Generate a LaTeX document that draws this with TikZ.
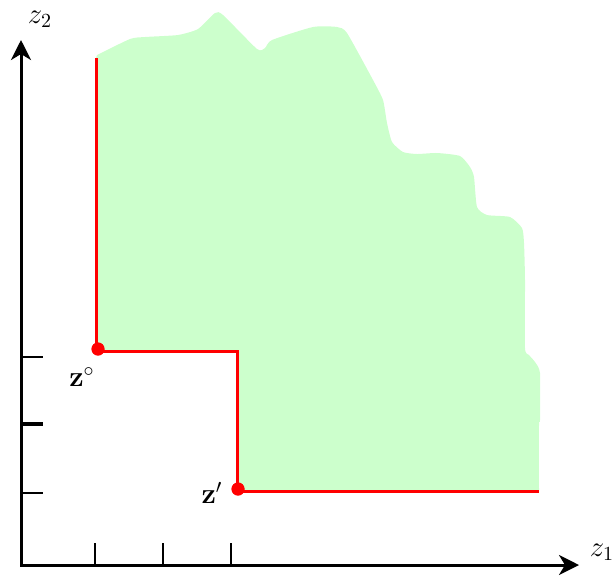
\documentclass[tikz,border=0pt]{standalone}
\usetikzlibrary{arrows.meta}
\definecolor{regiongreen}{HTML}{CCFFCC}
\definecolor{pathred}{HTML}{FF0000}
\begin{document}
\begin{tikzpicture}[x=0.5pt,y=-0.5pt,
  axis/.style={line width=1.5pt,black,{Stealth[length=10pt,width=10pt,inset=3pt]}-{Stealth[length=10pt,width=10pt,inset=3pt]}},
  thintick/.style={line width=0.8pt,black},
  thicktick/.style={line width=1.6pt,black},
  redpath/.style={line width=1.5pt,pathred},
  dot/.style={circle,fill=pathred,inner sep=0pt,minimum size=6.5pt},
  lbl/.style={inner sep=0pt,font=\fontsize{14.5}{16}\selectfont}]
\useasboundingbox (0,0) rectangle (616,580);
% region
\fill[regiongreen] (96,351) -- (96,58) -- plot[smooth,tension=0.35] coordinates {(97,55) (130,39) (145,37) (178,35) (198,29) (215,13) (223,15) (257,49) (265,48) (272,40) (313,27) (337,27) (347,33) (373,80) (383,100) (387,123) (392,142) (403,152) (417,154) (437,153) (460,156) (470,167) (474,177) (477,207) (487,215) (510,217) (522,228) (524,243) (525,280) (525,348) (529,355) (535,362) (540,373) (540,420) (539,425) (539,492)} -- (237,492) -- (237,351) -- cycle;
% axes
\coordinate (O) at (21,565);
\coordinate (Ytip) at (21,40);
\coordinate (Xtip) at (579,565);
\draw[axis] (Ytip) -- (O) -- (Xtip);
\node[lbl] (z2) at (40,19) {$z_2$};
\node[lbl] (z1) at (602,552) {$z_1$};
% ticks
\foreach \y/\s in {357/thintick,424/thicktick,493/thintick}
  \draw[\s] (21,\y) -- (43,\y);
\foreach \x in {95,163,231}
  \draw[thintick] (\x,543) -- (\x,564);
% points
\node[dot] (zo) at (98,349) {};
\node[dot] (zp) at (238,489) {};
\coordinate (top) at (96,58);
\coordinate (right) at (539,491);
\draw[redpath] (top) -- (96,351) -- (237,351) -- (237,491) -- (right);
\node[dot] at (zo) {};
\node[dot] at (zp) {};
\node[lbl] (lo) at (82,377) {$\mathbf{z}^{\circ}$};
\node[lbl] (lp) at (212,493) {$\mathbf{z}'$};
\end{tikzpicture}
\end{document}
